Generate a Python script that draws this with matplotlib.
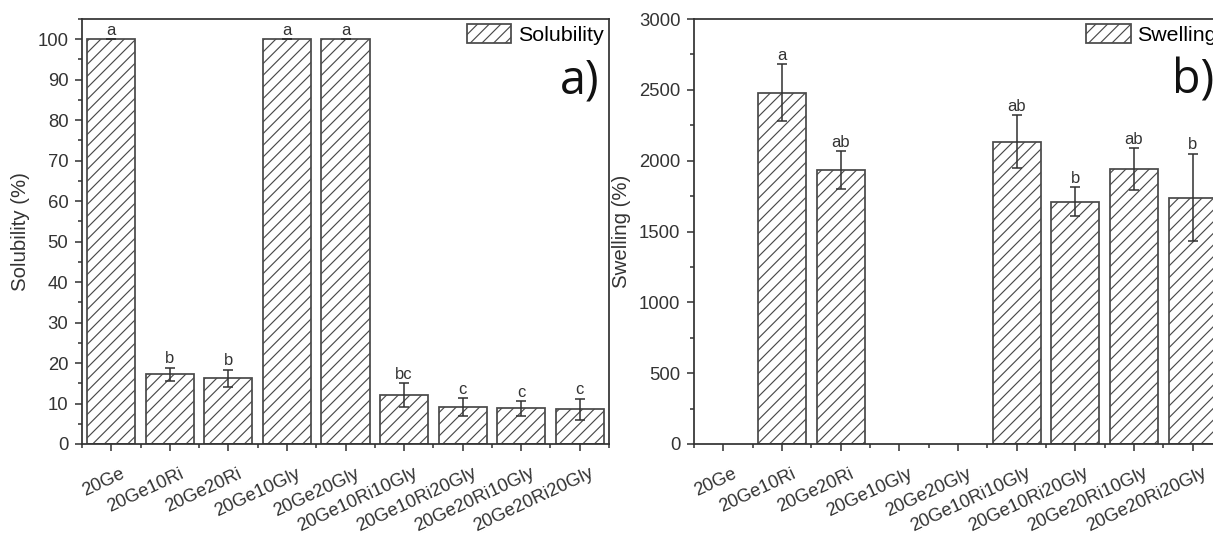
import numpy as np
import matplotlib
matplotlib.use('Agg')
import matplotlib.pyplot as plt
import matplotlib.transforms as mtransforms
from matplotlib.patches import Patch
from matplotlib.ticker import MultipleLocator

plt.rcParams['font.family'] = ['Liberation Sans', 'DejaVu Sans']
plt.rcParams['hatch.linewidth'] = 0.6

# Data
samples = ['20Ge', '20Ge10Ri', '20Ge20Ri', '20Ge10Gly', '20Ge20Gly',
           '20Ge10Ri10Gly', '20Ge10Ri20Gly', '20Ge20Ri10Gly', '20Ge20Ri20Gly']

solubility = [100, 17.2, 16.3, 100, 100, 12.1, 9.1, 8.8, 8.6]
solubility_err = [0, 1.7, 2.1, 0, 0, 3.0, 2.2, 1.8, 2.6]
solubility_letters = ['a', 'b', 'b', 'a', 'a', 'bc', 'c', 'c', 'c']

# samples that dissolved have no swelling value
swelling = [np.nan, 2480, 1935, np.nan, np.nan, 2135, 1710, 1940, 1740]
swelling_err = [np.nan, 200, 133, np.nan, np.nan, 185, 103, 147, 310]
swelling_letters = ['', 'a', 'ab', '', '', 'ab', 'b', 'ab', 'b']

W, H, DPI = 1213, 540, 140
fig = plt.figure(figsize=(W / DPI, H / DPI), dpi=DPI)

ink = '#333333'
edge = '#4a4a4a'


def panel(rect, vals, errs, letters, ylim, major, minor, ylabel, legend, tag, pad):
    ax = fig.add_axes(rect)
    x = np.arange(1, len(samples) + 1)
    ax.bar(x, vals, width=0.82, color='white', edgecolor=edge,
           linewidth=0.9, hatch='////')
    ax.errorbar(x, vals, yerr=errs, fmt='none', ecolor=ink,
                elinewidth=0.8, capsize=2.5, capthick=0.8)
    for xi, v, e, t in zip(x, vals, errs, letters):
        if t and not np.isnan(v):
            ax.text(xi, v + (0 if np.isnan(e) else e) + pad, t,
                    ha='center', va='bottom', fontsize=8.5, color=ink)
    ax.set_xlim(0.5, len(samples) + 0.5)
    ax.set_ylim(*ylim)
    ax.yaxis.set_major_locator(MultipleLocator(major))
    ax.yaxis.set_minor_locator(MultipleLocator(minor))
    ax.set_xticks(x)
    ax.set_xticklabels([])
    ax.xaxis.set_minor_locator(MultipleLocator(0.5))
    # rotated sample names, nudged right of the tick like the original
    shift = mtransforms.ScaledTranslation(9 / DPI, -21 / DPI, fig.dpi_scale_trans)
    for xi, name in zip(x, samples):
        ax.text(xi, 0, name, transform=ax.get_xaxis_transform() + shift,
                rotation=25, rotation_mode='anchor', ha='right', va='top',
                fontsize=9.4, color=ink)
    ax.tick_params(axis='both', which='major', direction='out',
                   length=3.5, width=0.8, color=ink, labelcolor=ink)
    ax.tick_params(axis='y', which='major', labelsize=9.5)
    ax.tick_params(axis='both', which='minor', direction='out',
                   length=2, width=0.8, color=ink)
    for s in ax.spines.values():
        s.set_linewidth(0.9)
        s.set_color(ink)
    ax.set_ylabel(ylabel, fontsize=10.5, color=ink)
    handle = Patch(facecolor='white', edgecolor=edge, hatch='////',
                   linewidth=0.9)
    ax.legend([handle], [legend], loc='upper right', frameon=False,
              fontsize=11, handlelength=2.1, handleheight=1.0,
              handletextpad=0.3, borderaxespad=0.1, borderpad=0.15)
    ax.text(0.945, 0.855, tag, transform=ax.transAxes, ha='center',
            va='center', fontsize=24, family=['Open Sans', 'DejaVu Sans'],
            color='#111111')
    return ax


panel([82 / W, 96 / H, 527 / W, 425 / H], solubility, solubility_err,
      solubility_letters, (0, 105), 10, 5, 'Solubility (%)', 'Solubility',
      'a)', 0.3)
panel([694 / W, 96 / H, 528 / W, 425 / H], swelling, swelling_err,
      swelling_letters, (0, 3000), 500, 250, 'Swelling (%)', 'Swelling',
      'b)', 10)

fig.savefig('out.png', dpi=DPI)
